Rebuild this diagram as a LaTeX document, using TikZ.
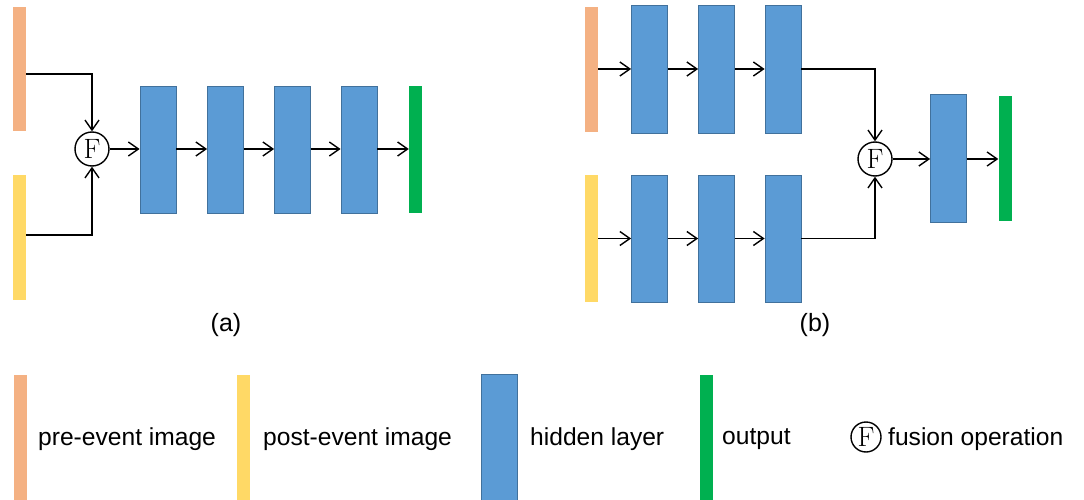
\documentclass[tikz,border=0pt]{standalone}
\usepackage{fontspec}
\newfontfamily\labelfont{Liberation Sans}
\newfontfamily\fusefont{Latin Modern Roman}
\usetikzlibrary{arrows.meta}

\definecolor{preC}{HTML}{F4B183}
\definecolor{postC}{HTML}{FFD966}
\definecolor{hidC}{HTML}{5B9BD5}
\definecolor{hidB}{HTML}{41719C}
\definecolor{outC}{HTML}{00B050}

\tikzset{
  bar/.style={rectangle, inner sep=0pt, minimum width=13pt, draw=none},
  prebar/.style={bar, fill=preC},
  postbar/.style={bar, fill=postC},
  outbar/.style={bar, fill=outC},
  hid/.style={rectangle, inner sep=0pt, minimum width=36pt, minimum height=127pt,
              fill=hidC, draw=hidB, line width=0.8pt},
  fuse/.style={circle, draw=black, line width=1.4pt, fill=white, inner sep=0pt,
               font=\fusefont\fontsize{28}{30}\selectfont},
  arr/.style={draw=black, line width=1.4pt,
              -{Straight Barb[length=10pt,width=14pt]}},
  txt/.style={anchor=west, inner sep=0pt, font=\labelfont\fontsize{24.6}{28}\selectfont},
  panelcap/.style={inner sep=0pt, font=\labelfont\fontsize{25}{28}\selectfont}
}

\begin{document}
\begin{tikzpicture}[x=1pt, y=-1pt]
  \useasboundingbox (0,0) rectangle (1084,500);

  % ---- (a) early fusion ----
  \node[prebar, minimum height=124pt] (preA) at (19.5,69) {};
  \node[postbar, minimum height=125pt] (postA) at (19.5,237.5) {};
  \node[fuse, minimum size=34pt] (FA) at (92,149) {F};
  \node[hid] (hA1) at (158,149.5) {};
  \node[hid] (hA2) at (225.5,149.5) {};
  \node[hid] (hA3) at (292.5,149.5) {};
  \node[hid] (hA4) at (359,149.5) {};
  \node[outbar, minimum height=127pt] (outA) at (415.5,149.5) {};

  \draw[arr] ([yshift=-5pt]preA.east) -| (FA.north);
  \draw[arr] ([yshift=2.5pt]postA.east) -| (FA.south);
  \draw[arr] (FA.east) -- (FA.east -| hA1.west);
  \draw[arr] (hA1.east |- FA.east) -- (hA2.west |- FA.east);
  \draw[arr] (hA2.east |- FA.east) -- (hA3.west |- FA.east);
  \draw[arr] (hA3.east |- FA.east) -- (hA4.west |- FA.east);
  \draw[arr] (hA4.east |- FA.east) -- (outA.west |- FA.east);

  \node[panelcap] (capA) at (226,325) {(a)};

  % ---- (b) late fusion ----
  \node[prebar, minimum height=125pt] (preB) at (591.5,69.5) {};
  \node[postbar, minimum height=127pt] (postB) at (591.5,238.5) {};
  \node[hid, minimum height=128pt] (t1) at (649.5,69) {};
  \node[hid, minimum height=128pt] (t2) at (716.5,69) {};
  \node[hid, minimum height=128pt] (t3) at (783,69) {};
  \node[hid] (b1) at (649.5,238.5) {};
  \node[hid] (b2) at (716.5,238.5) {};
  \node[hid] (b3) at (783,238.5) {};
  \node[fuse, minimum size=34pt] (FB) at (875,159) {F};
  \node[hid, minimum height=128pt] (hB) at (948.5,158) {};
  \node[outbar, minimum height=125pt] (outB) at (1005,158.5) {};

  \draw[arr] (preB.east |- t1.west) -- (t1.west);
  \draw[arr] (t1.east) -- (t2.west);
  \draw[arr] (t2.east) -- (t3.west);
  \draw[arr] (postB.east) -- (b1.west);
  \draw[arr] (b1.east) -- (b2.west);
  \draw[arr] (b2.east) -- (b3.west);
  \draw[arr] (t3.east) -| (FB.north);
  \draw[arr] (b3.east) -| (FB.south);
  \draw[arr] (FB.east) -- (FB.east -| hB.west);
  \draw[arr] (hB.east |- FB.east) -- (outB.west |- FB.east);

  \node[panelcap] (capB) at (815,325) {(b)};

  % ---- legend ----
  \node[prebar, minimum height=126pt] (lgPre) at (20,437.5) {};
  \node[txt] (lgPreT) at (38,439) {pre-event image};
  \node[postbar, minimum height=126pt] (lgPost) at (243.5,437.5) {};
  \node[txt] (lgPostT) at (263,439) {post-event image};
  \node[hid, minimum height=127pt] (lgHid) at (499,437.5) {};
  \node[txt] (lgHidT) at (530,439) {hidden layer};
  \node[outbar, minimum height=126pt] (lgOut) at (706,437.5) {};
  \node[txt] (lgOutT) at (722,439) {output};
  \node[fuse, minimum size=30pt] (lgF) at (866,437) {F};
  \node[txt] (lgFT) at (888,439) {fusion operation};
\end{tikzpicture}
\end{document}
